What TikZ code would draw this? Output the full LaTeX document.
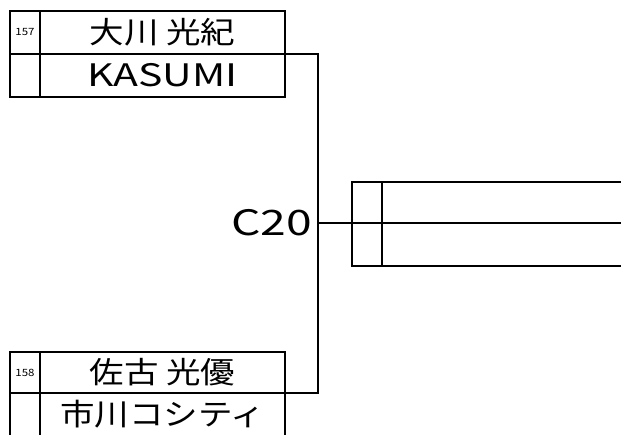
\documentclass[tikz,border=0pt]{standalone}
\usepackage{fontspec}
\newfontfamily\jpfont[FakeStretch=1.15]{Noto Sans CJK JP}
\newfontfamily\latinfont[FakeStretch=1.32]{Noto Sans CJK JP}
\usetikzlibrary{positioning}

\begin{document}
\begin{tikzpicture}[x=1pt,y=-1pt,
cell/.style={draw,rectangle,line width=2pt,outer sep=0pt,inner sep=0pt,minimum height=43pt},
numcell/.style={cell,minimum width=30pt,font=\jpfont\fontsize{10}{10}\selectfont},
namecell/.style={cell,minimum width=245pt,font=\jpfont\fontsize{30}{30}\selectfont}]
\useasboundingbox (0,0) rectangle (621,435);

% upper entry
\node (num157) [numcell,anchor=north west] at (10,11) {157};
\node (name157) [namecell,right=0pt of num157] {大川 光紀};
\node (blank157) [numcell,below=0pt of num157] {};
\node (team157) [namecell,right=0pt of blank157,font=\latinfont\fontsize{31}{31}\selectfont] {KASUMI};

% lower entry
\node (num158) [numcell,anchor=north west,minimum height=41pt] at (10,352) {158};
\node (name158) [namecell,minimum height=41pt,right=0pt of num158] {佐古 光優};
\node (blank158) [numcell,below=0pt of num158] {};
\node (team158) [namecell,right=0pt of blank158] {市川コシティ};

% next round
\node (winnum) [numcell,minimum height=41pt,anchor=north west] at (352,182) {};
\node (winname) [namecell,minimum width=300pt,minimum height=41pt,right=0pt of winnum] {};
\node (winblank) [numcell,minimum height=43pt,below=0pt of winnum] {};
\node (winteam) [namecell,minimum width=300pt,right=0pt of winblank] {};

% bracket
\coordinate (bend) at (318,0);
\draw [line width=2pt] (team157.north east) -- (team157.north east -| bend)
  -- (team158.north east -| bend) -- (team158.north east);
\draw [line width=2pt] (winteam.north west -| bend) -- (winteam.north west);
\node (match) [anchor=east,inner sep=6pt,font=\latinfont\fontsize{35}{35}\selectfont]
  at (winteam.north west -| bend) {C20};
\end{tikzpicture}
\end{document}
